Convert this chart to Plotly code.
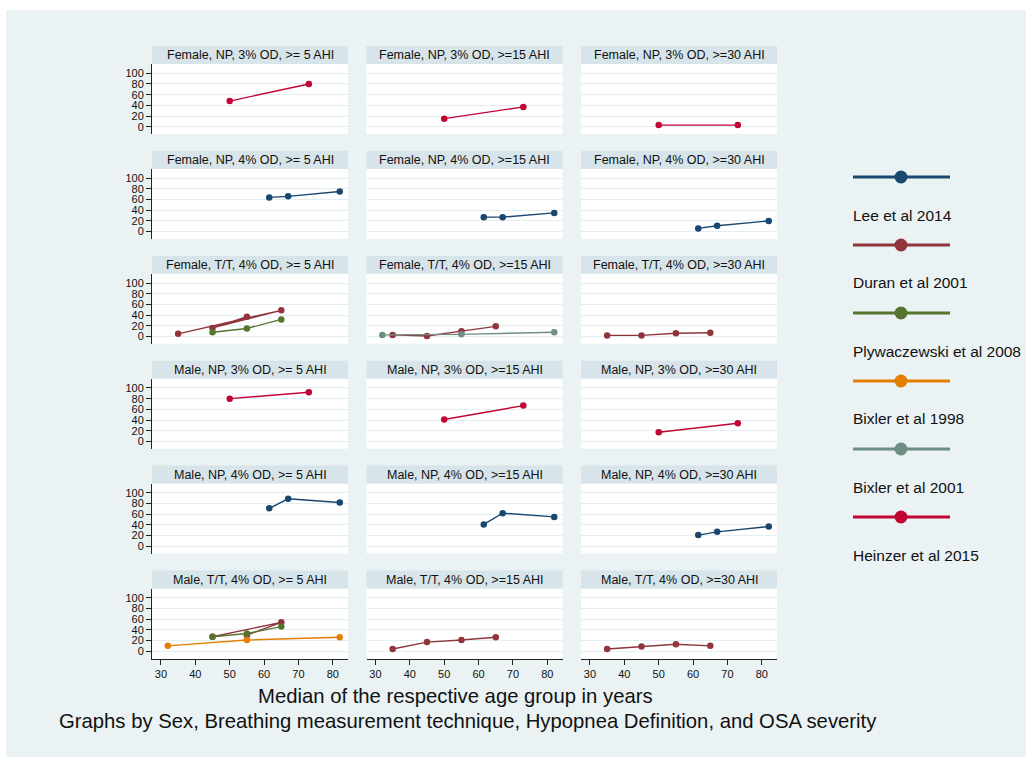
import plotly.graph_objects as go

# ---------------- data ----------------
panel_titles = [
    "Female, NP, 3% OD, >= 5 AHI", "Female, NP, 3% OD, >=15 AHI", "Female, NP, 3% OD, >=30 AHI",
    "Female, NP, 4% OD, >= 5 AHI", "Female, NP, 4% OD, >=15 AHI", "Female, NP, 4% OD, >=30 AHI",
    "Female, T/T, 4% OD, >= 5 AHI", "Female, T/T, 4% OD, >=15 AHI", "Female, T/T, 4% OD, >=30 AHI",
    "Male, NP, 3% OD, >= 5 AHI", "Male, NP, 3% OD, >=15 AHI", "Male, NP, 3% OD, >=30 AHI",
    "Male, NP, 4% OD, >= 5 AHI", "Male, NP, 4% OD, >=15 AHI", "Male, NP, 4% OD, >=30 AHI",
    "Male, T/T, 4% OD, >= 5 AHI", "Male, T/T, 4% OD, >=15 AHI", "Male, T/T, 4% OD, >=30 AHI",
]
studies = ["Lee et al 2014", "Duran et al 2001", "Plywaczewski et al 2008",
           "Bixler et al 1998", "Bixler et al 2001", "Heinzer et al 2015"]

heinzer_age = [50, 73]
heinzer_f_5 = [48, 80]
heinzer_f_15 = [15, 37]
heinzer_f_30 = [3, 3]
heinzer_m_5 = [80, 92]
heinzer_m_15 = [41, 67]
heinzer_m_30 = [17, 34]

lee_age = [61.5, 67, 82]
lee_f_5 = [64, 66, 75]
lee_f_15 = [27, 27, 35]
lee_f_30 = [6, 11, 20]
lee_m_5 = [71, 89, 82]
lee_m_15 = [41, 62, 55]
lee_m_30 = [21, 27, 37]

duran_age_f5 = [35, 65, 45, 55]
duran_f_5 = [5, 49, 16, 37]
duran_age = [35, 45, 55, 65]
duran_f_15 = [3, 1, 10, 19]
duran_f_30 = [2, 2, 6, 7]
duran_age_m5 = [45, 65, 55]
duran_m_5 = [27, 54, 30]
duran_m_15 = [4, 17, 21, 26]
duran_m_30 = [4, 9, 13, 10]

plyw_age = [45, 55, 65]
plyw_f_5 = [8, 15, 32]
plyw_m_5 = [27, 33, 46]

bixler_age = [32, 55, 82]
bixler1998_m_5 = [10, 21, 26]
bixler2001_f_15 = [3, 4, 8]

x_ticks = [30, 40, 50, 60, 70, 80]
y_ticks = [0, 20, 40, 60, 80, 100]

# series per panel: (study index, ages, values)
panel_series = [
    [(5, heinzer_age, heinzer_f_5)],
    [(5, heinzer_age, heinzer_f_15)],
    [(5, heinzer_age, heinzer_f_30)],
    [(0, lee_age, lee_f_5)],
    [(0, lee_age, lee_f_15)],
    [(0, lee_age, lee_f_30)],
    [(1, duran_age_f5, duran_f_5), (2, plyw_age, plyw_f_5)],
    [(1, duran_age, duran_f_15), (4, bixler_age, bixler2001_f_15)],
    [(1, duran_age, duran_f_30)],
    [(5, heinzer_age, heinzer_m_5)],
    [(5, heinzer_age, heinzer_m_15)],
    [(5, heinzer_age, heinzer_m_30)],
    [(0, lee_age, lee_m_5)],
    [(0, lee_age, lee_m_15)],
    [(0, lee_age, lee_m_30)],
    [(1, duran_age_m5, duran_m_5), (2, plyw_age, plyw_m_5), (3, bixler_age, bixler1998_m_5)],
    [(1, duran_age, duran_m_15)],
    [(1, duran_age, duran_m_30)],
]

# ---------------- styles ----------------
study_colors = ["#1A476F", "#90353B", "#55752F", "#E37E00", "#6E8E84", "#C10534"]
BG = "#EAF2F3"
STRIP = "#D7E4E9"
GRID = "#E4EDF0"
FONT = "Liberation Sans, Arial, sans-serif"

W, H = 1030, 759


def fx(p):
    return p / W


def fy(p):
    return 1 - p / H


col_left = [152, 366.5, 581]
panel_w = 196
row_step = 104.9
strip_top0, plot_top0, plot_bot0 = 46, 64, 134
x_range = [27.4, 84.4]
y_range = [-13.7, 117.4]

fig = go.Figure()
layout_axes = {}
shapes = []
annotations = []

# background panel
shapes.append(dict(type="rect", xref="paper", yref="paper", x0=fx(6), x1=fx(1026),
                   y0=fy(757), y1=fy(10), fillcolor=BG, line=dict(width=0), layer="below"))

for i, title in enumerate(panel_titles):
    r, c = divmod(i, 3)
    idx = i + 1
    left = col_left[c]
    right = left + panel_w
    top = plot_top0 + row_step * r
    bot = plot_bot0 + row_step * r
    stop = strip_top0 + row_step * r
    xname = "xaxis" if idx == 1 else f"xaxis{idx}"
    yname = "yaxis" if idx == 1 else f"yaxis{idx}"
    xref = "x" if idx == 1 else f"x{idx}"
    yref = "y" if idx == 1 else f"y{idx}"
    is_bottom = (r == 5)
    is_left = (c == 0)
    layout_axes[xname] = dict(
        domain=[fx(left), fx(right)], range=x_range, anchor=yref,
        tickvals=x_ticks, showticklabels=is_bottom, showgrid=False, zeroline=False,
        showline=is_bottom, linecolor="#222", linewidth=1,
        ticks="outside" if is_bottom else "", ticklen=5, tickwidth=1, tickcolor="#222",
        tickfont=dict(family=FONT, size=11, color="#111"), fixedrange=True,
    )
    layout_axes[yname] = dict(
        domain=[fy(bot), fy(top)], range=y_range, anchor=xref,
        tickvals=y_ticks, showticklabels=is_left, showgrid=True, gridcolor=GRID, gridwidth=1,
        zeroline=False, showline=is_left, linecolor="#222", linewidth=1,
        ticks="outside" if is_left else "", ticklen=5, tickwidth=1, tickcolor="#222",
        tickfont=dict(family=FONT, size=11, color="#111"), fixedrange=True,
    )
    # white plot region
    shapes.append(dict(type="rect", xref="paper", yref="paper", x0=fx(left), x1=fx(right),
                       y0=fy(bot), y1=fy(top), fillcolor="white", line=dict(width=0), layer="below"))
    # strip
    shapes.append(dict(type="rect", xref="paper", yref="paper", x0=fx(left), x1=fx(right),
                       y0=fy(top), y1=fy(stop), fillcolor=STRIP, line=dict(width=0), layer="below"))
    annotations.append(dict(text=title, xref="paper", yref="paper", x=fx((left + right) / 2),
                            y=fy((top + stop) / 2), xanchor="center", yanchor="middle",
                            showarrow=False, font=dict(family=FONT, size=12.5, color="#111")))
    for s, ages, vals in panel_series[i]:
        fig.add_trace(go.Scatter(
            x=ages, y=vals, mode="lines+markers", xaxis=xref, yaxis=yref,
            line=dict(color=study_colors[s], width=1.4),
            marker=dict(color=study_colors[s], size=6.5),
            showlegend=False, name=studies[s], hoverinfo="x+y+name",
        ))

# legend (drawn manually: key above label)
leg_key_y0 = 177
leg_step = 68
for k, name in enumerate(studies):
    ky = leg_key_y0 + leg_step * k
    shapes.append(dict(type="line", xref="paper", yref="paper", x0=fx(853), x1=fx(950),
                       y0=fy(ky), y1=fy(ky), line=dict(color=study_colors[k], width=3)))
    shapes.append(dict(type="circle", xref="paper", yref="paper", x0=fx(894.5), x1=fx(907.5),
                       y0=fy(ky + 6.5), y1=fy(ky - 6.5), fillcolor=study_colors[k],
                       line=dict(color=study_colors[k], width=0)))
    annotations.append(dict(text=name, xref="paper", yref="paper", x=fx(851), y=fy(ky + 38),
                            xanchor="left", yanchor="middle", showarrow=False,
                            font=dict(family=FONT, size=15.5, color="#111")))

annotations.append(dict(text="Median of the respective age group in years", xref="paper", yref="paper",
                        x=fx(455), y=fy(696), xanchor="center", yanchor="middle", showarrow=False,
                        font=dict(family=FONT, size=20.3, color="#111")))
annotations.append(dict(text="Graphs by Sex, Breathing measurement technique, Hypopnea Definition, and OSA severity",
                        xref="paper", yref="paper", x=fx(57), y=fy(721), xanchor="left", yanchor="middle",
                        showarrow=False, font=dict(family=FONT, size=20.3, color="#111")))

fig.update_layout(
    width=W, height=H, margin=dict(l=0, r=0, t=0, b=0),
    paper_bgcolor="white", plot_bgcolor="rgba(0,0,0,0)",
    shapes=shapes, annotations=annotations, showlegend=False,
    font=dict(family=FONT), **layout_axes,
)

fig.write_html("out.html", config={"displayModeBar": False},
               post_script="document.body.style.margin='0';")
